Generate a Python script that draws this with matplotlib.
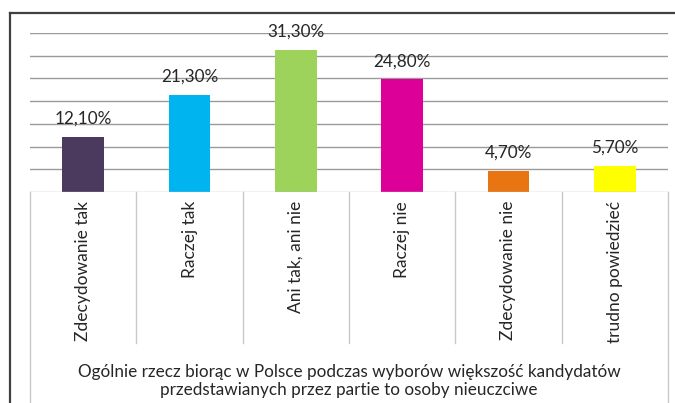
import matplotlib
matplotlib.use("Agg")
import matplotlib.pyplot as plt
from matplotlib.lines import Line2D
import matplotlib.transforms as mtransforms

plt.rcParams['font.family'] = ['Lato', 'DejaVu Sans']

# data
categories = ["Zdecydowanie tak", "Raczej tak", "Ani tak, ani nie",
              "Raczej nie", "Zdecydowanie nie", "trudno powiedzieć"]
values = [12.1, 21.3, 31.3, 24.8, 4.7, 5.7]
labels = ["12,10%", "21,30%", "31,30%", "24,80%", "4,70%", "5,70%"]
colors = ["#4b3a5e", "#00b5ef", "#9dd35a", "#dc0098", "#e87511", "#ffff00"]
group_label = ("Ogólnie rzecz biorąc w Polsce podczas wyborów większość kandydatów\n"
               "przedstawianych przez partie to osoby nieuczciwe")

W, H = 675, 403
fig = plt.figure(figsize=(W / 100, H / 100), dpi=100)

def fy(py):
    # pixel row from top -> figure fraction
    return 1 - py / H

def fx(px):
    return px / W

ax = fig.add_axes([fx(30), fy(192), fx(668) - fx(30), fy(33) - fy(192)])
x = list(range(len(categories)))
ax.bar(x, values, width=0.39, color=colors, zorder=3)
ax.set_xlim(-0.5, len(categories) - 0.5)
ax.set_ylim(0, 35)
ax.set_yticks([5, 10, 15, 20, 25, 30, 35])
ax.yaxis.grid(True, color="#9a9a9a", linewidth=1.0, zorder=0)
ax.set_xticks([])
ax.tick_params(left=False, labelleft=False)
for s in ax.spines.values():
    s.set_visible(False)
ax.axhline(0, color="#bdbdbd", linewidth=1.0, zorder=4)

for xi, v, lab in zip(x, values, labels):
    ax.annotate(lab, (xi, v), xytext=(0, 9.5), textcoords="offset points",
                ha="center", va="baseline", fontsize=12.3, color="#262626")

# category cells below the axis
trans = mtransforms.blended_transform_factory(ax.transData, fig.transFigure)
for b in [i - 0.5 for i in range(len(categories) + 1)]:
    bottom = fy(403) if b in (-0.5, len(categories) - 0.5) else fy(343)
    ax.add_line(Line2D([b, b], [fy(192), bottom], transform=trans,
                       color="#c8c8c8", linewidth=1.0, clip_on=False))
for xi, cat in zip(x, categories):
    ax.text(xi, fy(201), cat, transform=trans, rotation=90, ha="center",
            va="top", fontsize=12.5, color="#262626")

fig.text((fx(30) + fx(668)) / 2, fy(381), group_label, ha="center",
         va="center", fontsize=12.3, color="#262626", linespacing=1.15)

# outer chart frame (cropped)
fig.add_artist(Line2D([fx(10), 1], [fy(13), fy(13)], color="#404040", linewidth=1.6))
fig.add_artist(Line2D([fx(10), fx(10)], [fy(13), 0], color="#404040", linewidth=1.6))

fig.savefig("out.png", dpi=100, facecolor="white")
